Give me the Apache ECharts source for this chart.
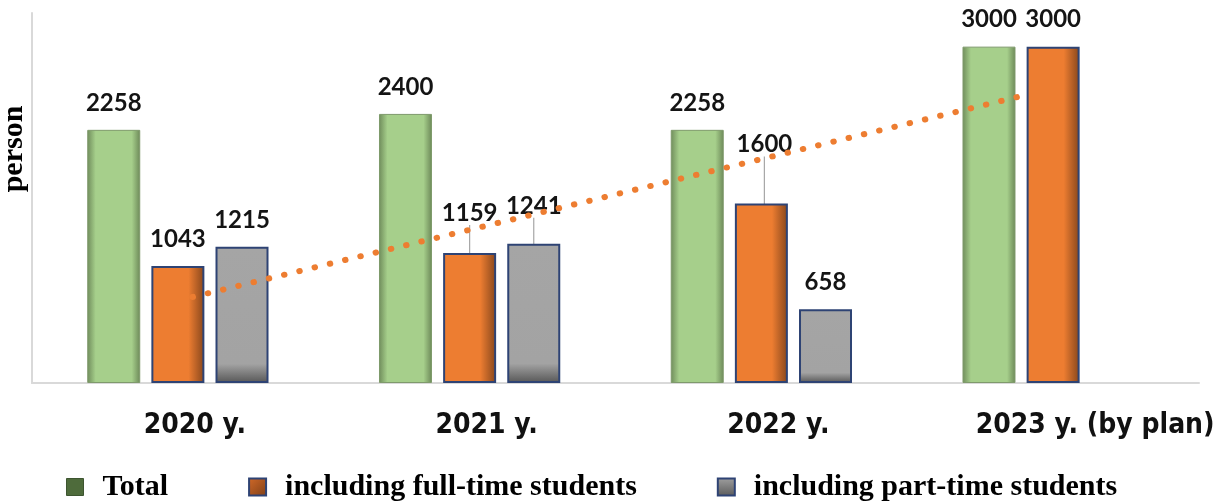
<!DOCTYPE html>
<html>
<head>
<meta charset="utf-8">
<title>Students</title>
<script src="https://cdn.jsdelivr.net/npm/echarts@6/dist/echarts.min.js"></script>
<style>
  html, body { margin: 0; padding: 0; background: #fff; }
  #chart { width: 1224px; height: 501px; }
</style>
</head>
<body>
<div id="chart"></div>
<script>
const years = ["2020 y.", "2021 y.", "2022 y.", "2023 y. (by plan)"];
const total = [2258, 2400, 2258, 3000];
const fullTime = [1043, 1159, 1600, 3000];
const partTime = [1215, 1241, 658, null];
// dotted trend line (x in category units)
const trendX = [0.05, 2.88];
const trendY = [767, 2552];

// labels that were pulled up with a leader line
const liftFull = { 1: [0, -13], 2: [3, -32] };
const liftPart = { 1: [0, -11] };

const chart = echarts.init(document.getElementById("chart"));

const grad = (x2, y2, stops) =>
  new echarts.graphic.LinearGradient(0, 0, x2, y2, stops.map((c) => ({ offset: c[0], color: c[1] })));

const greenFill = grad(1, 0, [[0, "#6f8c5b"], [0.16, "#a6cf8b"], [0.84, "#a6cf8b"], [1, "#6c8858"]]);
const orangeFill = grad(1, 0, [[0, "#ed7d31"], [0.7, "#ed7d31"], [1, "#86461c"]]);
const grayFill = grad(0, 1, [[0, "#a5a5a5"], [0.86, "#a3a3a3"], [1, "#565656"]]);

const labelStyle = {
  show: true,
  position: "top",
  distance: 15,
  color: "#141414",
  fontFamily: "Lato",
  fontWeight: "bold",
  fontSize: 24,
};

const liftLayout = (lift) => (params) => {
  const d = lift[params.dataIndex];
  return d ? { dx: d[0], dy: d[1] } : {};
};

const withLine = (values, lift) =>
  values.map((v, i) => (lift[i] ? { value: v, labelLine: { show: true } } : v));

const yearLabel = {
  fontFamily: "DejaVu Sans Condensed",
  fontWeight: "bold",
  fontSize: 28,
  color: "#111",
};

const option = {
  animation: false,
  grid: { left: 32, right: 25, top: 13, bottom: 118, outerBoundsMode: "none", containLabel: false },
  legend: {
    left: 61,
    top: 467,
    icon: "rect",
    itemWidth: 17,
    itemHeight: 17,
    itemGap: 80,
    textStyle: {
      fontFamily: "Liberation Serif",
      fontWeight: "bold",
      fontSize: 30,
      color: "#000",
      padding: [0, 0, 0, 14],
    },
    data: [
      { name: "Total", itemStyle: { color: "#4e6b3b", borderColor: "#3d5530", borderWidth: 1 } },
      {
        name: "including full-time students",
        itemStyle: { color: grad(1, 1, [[0, "#d36a28"], [1, "#7e3f17"]]), borderColor: "#2e4374", borderWidth: 2 },
      },
      {
        name: "including part-time students",
        itemStyle: { color: grad(0, 1, [[0, "#a0a0a0"], [1, "#5a5a5a"]]), borderColor: "#2e4374", borderWidth: 2 },
      },
    ],
  },
  xAxis: [
    {
      type: "category",
      data: years,
      axisLine: { lineStyle: { color: "#d9d9d9", width: 2 } },
      axisTick: { show: false },
      axisLabel: {
        margin: 29,
        formatter: (v, i) => (i === 3 ? "{b|" + v + "}" : "{a|" + v + "}"),
        rich: {
          a: Object.assign({ padding: [0, 0, 0, 34] }, yearLabel),
          b: Object.assign({ padding: [0, 0, 0, 84] }, yearLabel),
        },
      },
    },
    { type: "value", min: -0.5, max: 3.5, show: false },
  ],
  yAxis: {
    type: "value",
    min: 0,
    max: 3300,
    splitLine: { show: false },
    axisLabel: { show: false },
    axisTick: { show: false },
    axisLine: { show: true, onZero: false, lineStyle: { color: "#d9d9d9", width: 2 } },
    name: "person",
    nameLocation: "middle",
    nameRotate: 90,
    nameGap: 3,
    nameTextStyle: {
      fontFamily: "Liberation Serif",
      fontWeight: "bold",
      fontSize: 30,
      color: "#000",
      padding: [0, 0, 0, 98],
    },
  },
  series: [
    {
      name: "Total",
      type: "bar",
      data: total,
      barWidth: 53,
      barGap: "21%",
      itemStyle: { color: greenFill, borderColor: "#7f9a6c", borderWidth: 1 },
      label: labelStyle,
    },
    {
      name: "including full-time students",
      type: "bar",
      data: withLine(fullTime, liftFull),
      barWidth: 53,
      barGap: "21%",
      itemStyle: { color: orangeFill, borderColor: "#2e4374", borderWidth: 2 },
      label: labelStyle,
      labelLine: { show: false, lineStyle: { color: "#a6a6a6", width: 1.2 } },
      labelLayout: liftLayout(liftFull),
    },
    {
      name: "including part-time students",
      type: "bar",
      data: withLine(partTime, liftPart),
      barWidth: 53,
      barGap: "21%",
      itemStyle: { color: grayFill, borderColor: "#2e4374", borderWidth: 2 },
      label: labelStyle,
      labelLine: { show: false, lineStyle: { color: "#a6a6a6", width: 1.2 } },
      labelLayout: liftLayout(liftPart),
    },
    {
      name: "trend",
      type: "line",
      xAxisIndex: 1,
      data: trendX.map((x, i) => [x, trendY[i]]),
      symbol: "none",
      z: 5,
      lineStyle: { color: "#ed7d31", width: 6, type: [0.5, 15.2], cap: "round" },
    },
  ],
};

chart.setOption(option);
</script>
</body>
</html>
